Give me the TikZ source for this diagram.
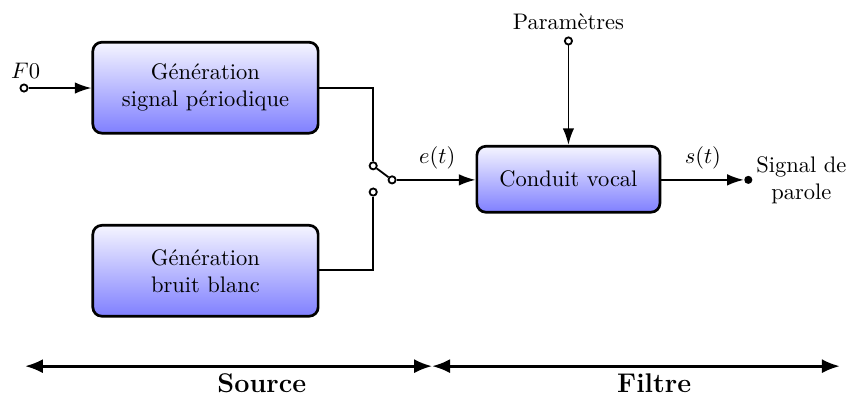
\documentclass[tikz,border=0pt]{standalone}
\usepackage{amsmath}
\usepackage{amssymb}
\usepackage{tikz}
\usetikzlibrary{arrows.meta}

\tikzset{
  bloc/.style={draw, very thick, rounded corners=4pt, align=center,
    top color=blue!4, bottom color=blue!50},
  lien/.style={thick},
  fleche/.style={thick, -{Latex[length=2.6mm,width=1.8mm]}},
  borne/.style={circle, draw, thick, fill=white, inner sep=0pt, minimum size=3.2pt},
  plot/.style={circle, fill=black, inner sep=0pt, minimum size=3.6pt},
}

\begin{document}
\begin{tikzpicture}
\useasboundingbox (0,0) rectangle (13.31,-6.17);
% blocs
\node[bloc, minimum width=3.52cm, minimum height=1.42cm] (gsp) at (3.21,-1.37) {G\'en\'eration\\signal p\'eriodique};
\node[bloc, minimum width=3.52cm, minimum height=1.42cm] (gbb) at (3.21,-4.23) {G\'en\'eration\\bruit blanc};
\node[bloc, minimum width=2.86cm, minimum height=1.03cm] (cv) at (8.88,-2.80) {Conduit vocal};
% entree F0
\node[borne] (f0) at (0.375,-1.375) {};
\node (f0lab) at (0.40,-1.10) {$F0$};
\draw[fleche] (f0) -- (f0.center -| gsp.west);
% interrupteur
\coordinate (haut) at (5.83,-1.375);
\coordinate (bas) at (5.83,-4.22);
\node[borne] (pivot) at (5.83,-2.59) {};
\node[borne] (contact) at (5.83,-3.0) {};
\node[borne] (sortie) at (6.125,-2.81) {};
\draw[lien] (gsp.east |- haut) -- (haut) -- (pivot);
\draw[lien] (gbb.east |- bas) -- (bas) -- (contact);
\draw[lien] (pivot) -- (sortie);
\draw[fleche] (sortie) -- (sortie -| cv.west);
\node (et) at (6.83,-2.47) {$e(t)$};
% parametres
\node (param) at (8.88,-0.34) {Param\`etres};
\node[borne] (pin) at (8.88,-0.64) {};
\draw[fleche] (pin) -- (cv.north);
% sortie
\node[plot] (sp) at (11.69,-2.81) {};
\draw[fleche] (cv.east |- sp) -- (sp.west);
\node (st) at (10.98,-2.47) {$s(t)$};
\node[align=center] (parole) at (12.52,-2.81) {Signal de\\parole};
% source / filtre
\coordinate (g) at (0.39,-5.72);
\coordinate (m) at (6.75,-5.72);
\coordinate (d) at (13.12,-5.72);
\draw[very thick, {Latex[length=2.8mm,width=2.2mm]}-{Latex[length=2.8mm,width=2.2mm]}] (g) -- (m);
\draw[very thick, {Latex[length=2.8mm,width=2.2mm]}-{Latex[length=2.8mm,width=2.2mm]}] (m) -- (d);
\node[font=\large\bfseries, inner sep=1pt] (src) at (4.09,-5.98) {Source};
\node[font=\large\bfseries, inner sep=1pt] (filt) at (10.22,-5.98) {Filtre};
\end{tikzpicture}
\end{document}
